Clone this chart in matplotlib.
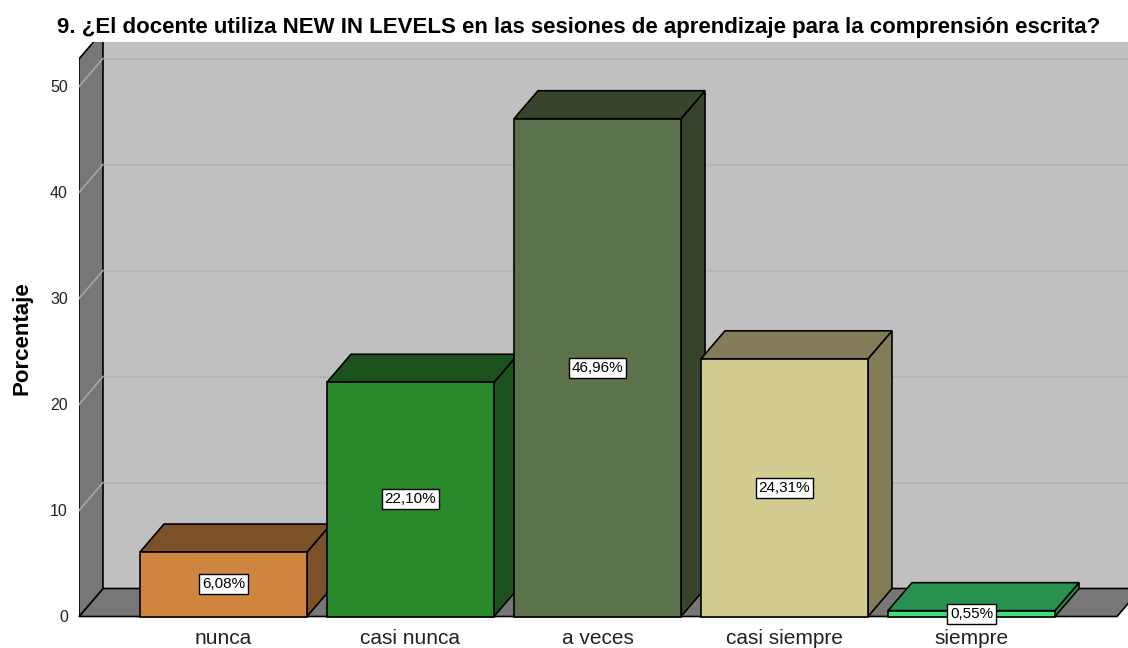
import matplotlib
matplotlib.use("Agg")
import matplotlib.pyplot as plt
from matplotlib.patches import Polygon

# ---------------- data ----------------
categories = ["nunca", "casi nunca", "a veces", "casi siempre", "siempre"]
values = [6.08, 22.10, 46.96, 24.31, 0.55]
value_labels = ["6,08%", "22,10%", "46,96%", "24,31%", "0,55%"]
yticks = [0, 10, 20, 30, 40, 50]
title = "9. ¿El docente utiliza NEW IN LEVELS en las sesiones de aprendizaje para la comprensión escrita?"
ylabel = "Porcentaje"

# ---------------- style ----------------
front_colors = ["#CD853F", "#2A892A", "#5C724A", "#D3CC91", "#3EDE7A"]
dark_colors = ["#7D5127", "#1B521B", "#37442C", "#827D58", "#27914F"]
WALL_BACK = "#C0C0C0"
WALL_SIDE = "#777777"
GRID_BACK = "#B4B4B4"
GRID_SIDE = "#A6A6A6"

PX_PER_UNIT = 10.6     # vertical scale
CAT_PX = 187.0         # horizontal spacing of categories in pixels
X0_PX = 223.5          # pixel centre of first category
BAR_W = 167.0 / CAT_PX
DX = 24.0 / CAT_PX
DY = 28.0 / PX_PER_UNIT
WALL_TOP = 52.6

W, H = 1128, 648
fig = plt.figure(figsize=(W / 100, H / 100), dpi=100)
left_px, bottom_px, top_px = 79, 616.5, 42
ax = fig.add_axes([left_px / W, (H - bottom_px) / H, (W - left_px) / W, (bottom_px - top_px) / H])
xl = (left_px - X0_PX) / CAT_PX
xr = (W - X0_PX) / CAT_PX
ax.set_xlim(xl, xr)
ax.set_ylim(0, (bottom_px - top_px) / PX_PER_UNIT)
ax.patch.set_visible(False)
for s in ax.spines.values():
    s.set_visible(False)

x_floor_end = (1117 - X0_PX) / CAT_PX
x_far = xr + 1

# back wall
ax.add_patch(Polygon([(xl + DX, DY), (x_far, DY), (x_far, WALL_TOP + DY + 5), (xl + DX, WALL_TOP + DY + 5)],
                     closed=True, facecolor=WALL_BACK, edgecolor="none", zorder=1))
# back wall gridlines
for v in yticks[1:]:
    ax.plot([xl + DX, x_far], [v + DY, v + DY], color=GRID_BACK, lw=1.5, zorder=2)
# floor
ax.add_patch(Polygon([(xl, 0), (x_floor_end, 0), (x_floor_end + DX, DY), (xl + DX, DY)],
                     closed=True, facecolor=WALL_SIDE, edgecolor="black", lw=1.2, zorder=3, clip_on=False))
# left wall
ax.add_patch(Polygon([(xl, 0), (xl + DX, DY), (xl + DX, WALL_TOP + DY), (xl, WALL_TOP)],
                     closed=True, facecolor=WALL_SIDE, edgecolor="black", lw=1.2, zorder=3))
for v in yticks[1:]:
    ax.plot([xl, xl + DX], [v, v + DY], color=GRID_SIDE, lw=1.2, zorder=4)

# bars
for i, (v, fc, dc) in enumerate(zip(values, front_colors, dark_colors)):
    x1 = i - BAR_W / 2
    x2 = i + BAR_W / 2
    z = 10 + i
    side = Polygon([(x2, 0), (x2 + DX, DY), (x2 + DX, v + DY), (x2, v)], closed=True,
                   facecolor=dc, edgecolor="black", lw=1.2, zorder=z, clip_on=False)
    top = Polygon([(x1, v), (x1 + DX, v + DY), (x2 + DX, v + DY), (x2, v)], closed=True,
                  facecolor=dc, edgecolor="black", lw=1.2, zorder=z, clip_on=False)
    front = Polygon([(x1, 0), (x2, 0), (x2, v), (x1, v)], closed=True,
                    facecolor=fc, edgecolor="black", lw=1.2, zorder=z, clip_on=False)
    for p in (side, top, front):
        ax.add_patch(p)

# value labels
for i, (v, lab) in enumerate(zip(values, value_labels)):
    ax.text(i, v / 2, lab, ha="center", va="center", fontsize=11, family="Liberation Sans",
            zorder=30, bbox=dict(boxstyle="square,pad=0.2", facecolor="white", edgecolor="black", lw=1.0))

# axes ticks
ax.set_yticks(yticks)
ax.set_yticklabels([str(t) for t in yticks], fontsize=11.5, family="Liberation Sans", color="#222222")
ax.set_xticks(range(len(categories)))
ax.set_xticklabels(categories, fontsize=15, family="Liberation Sans", color="#222222")
ax.tick_params(axis="y", length=0, pad=8)
ax.tick_params(axis="x", length=0, pad=9)

fig.text(579 / W, 1 - 27 / H, title, ha="center", va="center", fontsize=16, fontweight="bold",
         family="Liberation Sans")
fig.text(22 / W, 1 - 338 / H, ylabel, ha="center", va="center", rotation=90, fontsize=16,
         fontweight="bold", family="Liberation Sans")

fig.savefig("out.png", dpi=100)
